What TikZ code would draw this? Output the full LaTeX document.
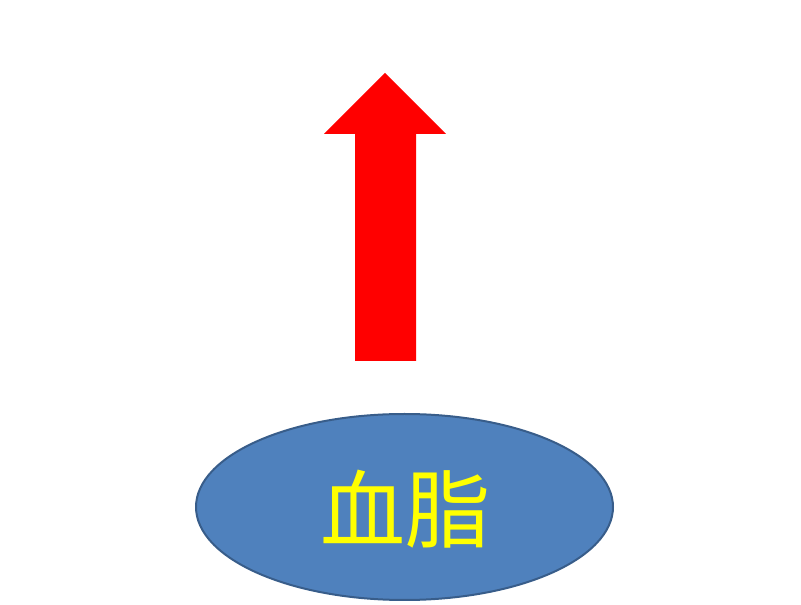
\documentclass[tikz,border=0pt]{standalone}
\usepackage{fontspec}
\newfontfamily\cjk{Noto Sans CJK SC}
\definecolor{ellfill}{HTML}{4F81BD}
\definecolor{elldraw}{HTML}{385D8A}
\definecolor{txtyellow}{HTML}{FFFF00}
\usetikzlibrary{shapes.geometric}
\begin{document}
\begin{tikzpicture}[x=1pt,y=1pt,
  bigarrow/.style={fill=red,draw=none},
  blob/.style={ellipse,fill=ellfill,draw=elldraw,line width=2pt,minimum width=417pt,minimum height=186pt,inner sep=0pt}]
\useasboundingbox (0,0) rectangle (801,605);
\fill[bigarrow] (355,244) -- (355,471) -- (324,471) -- (385,532) -- (446,471) -- (416,471) -- (416,244) -- cycle;
\node[blob] (xz) at (404.5,98) {};
\node[text=txtyellow,font=\cjk\fontsize{85}{95}\selectfont] (t) at (405,96) {血脂};
\end{tikzpicture}
\end{document}
